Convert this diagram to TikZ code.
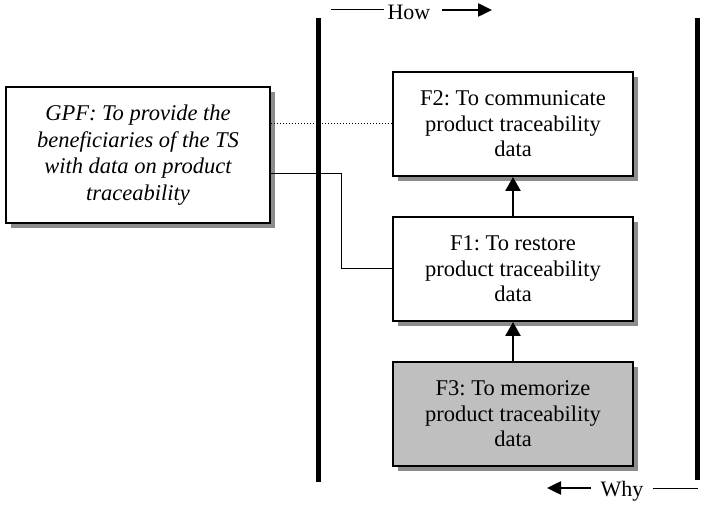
\documentclass[tikz,border=0pt]{standalone}
\usepackage{fontspec}
\setmainfont{Liberation Serif}
\usetikzlibrary{positioning,shadows,arrows.meta}
\frenchspacing

\tikzstyle{funcbox}=[rectangle,
                         draw,
                         line width=2pt,
                         fill=white,
                         minimum width=240pt,
                         minimum height=104pt,
                         align=center,
                         font=\fontsize{22.5}{25.5}\selectfont,
                         drop shadow={shadow xshift=5pt,shadow yshift=-5pt,fill=gray!90,opacity=1}]
\tikzstyle{goalbox}=[funcbox,
                         minimum width=264pt,
                         minimum height=136pt,
                         font=\fontsize{22.5}{26.5}\selectfont\itshape]
\tikzstyle{axis}=[line width=5pt]
\tikzstyle{uparrow}=[line width=2.5pt,-{Triangle[width=15pt,length=14pt]}]

\begin{document}
\begin{tikzpicture}[x=1pt,y=1pt,node distance=39pt]
    \useasboundingbox (0,0) rectangle (705,504);
    % the two bounds
    \coordinate (lt) at (318,486);
    \coordinate (lb) at (318,22);
    \coordinate (rt) at (697,486);
    \coordinate (rb) at (697,24);
    \draw [axis] (lt) -- (lb);
    \draw [axis] (rt) -- (rb);
    % how / why
    \node [font=\fontsize{22}{26}\selectfont] (how) at (409,492) {How};
    \coordinate (howstart) at (331,494);
    \coordinate (howend) at (492,494);
    \draw [line width=1pt] (howstart) -- (how.west |- howstart);
    \draw [line width=2.5pt,-{Triangle[width=13pt,length=14pt]}] (how.east |- howend) ++(8,0) -- (howend);
    \node [font=\fontsize{22}{26}\selectfont] (why) at (622,13) {Why};
    \coordinate (whyend) at (547,16);
    \coordinate (whystart) at (698,16);
    \draw [line width=2.5pt,-{Triangle[width=13pt,length=14pt]}] (why.west |- whyend) ++(-6,0) -- (whyend);
    \draw [line width=1pt] (why.east |- whystart) ++(6,0) -- (whystart);
    % functions
    \node [funcbox] (f2) at (513,380) {F2: To communicate\\ product traceability\\ data};
    \node [funcbox, below=of f2] (f1) {F1: To restore\\ product traceability\\ data};
    \node [funcbox, below=of f1, fill=gray!50] (f3) {F3: To memorize\\ product traceability\\ data};
    \node [goalbox] (gpf) at (138,349) {GPF: To provide the\\ beneficiaries of the TS\\ with data on product\\ traceability};
    % links
    \draw [uparrow] (f3) -- (f1);
    \draw [uparrow] (f1) -- (f2);
    \draw [dotted, line width=1pt] (gpf.east |- f2.west) -- (f2.west);
    \draw [line width=1pt] ([yshift=-19pt]gpf.east) -| ([xshift=-51pt]f1.west) -- (f1.west);
\end{tikzpicture}
\end{document}
